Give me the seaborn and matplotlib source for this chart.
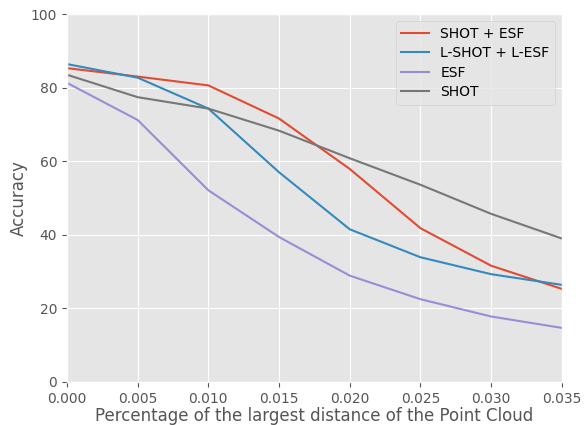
import pandas as pd
import seaborn as sns
import matplotlib.pyplot as plt

# distancias (fraccion de la mayor distancia de la nube)
dist = [0.000, 0.005, 0.010, 0.015, 0.020, 0.025, 0.030, 0.035]

shot_esf = [85.3, 83.0, 80.6, 71.6, 57.9, 41.8, 31.6, 25.3]
lshot_lesf = [86.4, 82.7, 74.3, 57.0, 41.5, 33.9, 29.3, 26.4]
esf = [81.3, 71.2, 52.1, 39.4, 28.9, 22.5, 17.8, 14.7]
shot = [83.5, 77.4, 74.3, 68.3, 60.8, 53.6, 45.7, 39.0]

series = ['SHOT + ESF', 'L-SHOT + L-ESF', 'ESF', 'SHOT']
values = [shot_esf, lshot_lesf, esf, shot]

rows = []
for name, vals in zip(series, values):
    for d, v in zip(dist, vals):
        rows.append({'dist': d, 'acc': v, 'method': name})
df = pd.DataFrame(rows)

plt.style.use('ggplot')
fig = plt.figure(figsize=(5.84, 4.25), dpi=100)
ax = fig.add_axes([0.1147, 0.1012, 0.8473, 0.8658])

colors = ['#E24A33', '#348ABD', '#988ED5', '#777777']
sns.lineplot(data=df, x='dist', y='acc', hue='method', hue_order=series,
             palette=colors, ax=ax, linewidth=1.5)

ax.set_xlim(0, 0.035)
ax.set_ylim(0, 100)
ax.set_xticks(dist)
ax.set_xticklabels(['%.3f' % d for d in dist])
ax.set_xlabel('Percentage of the largest distance of the Point Cloud', labelpad=1)
ax.set_ylabel('Accuracy', labelpad=2)
ax.legend(loc='upper right', title=None, labelspacing=0.4)

fig.savefig('out.png', dpi=100)
